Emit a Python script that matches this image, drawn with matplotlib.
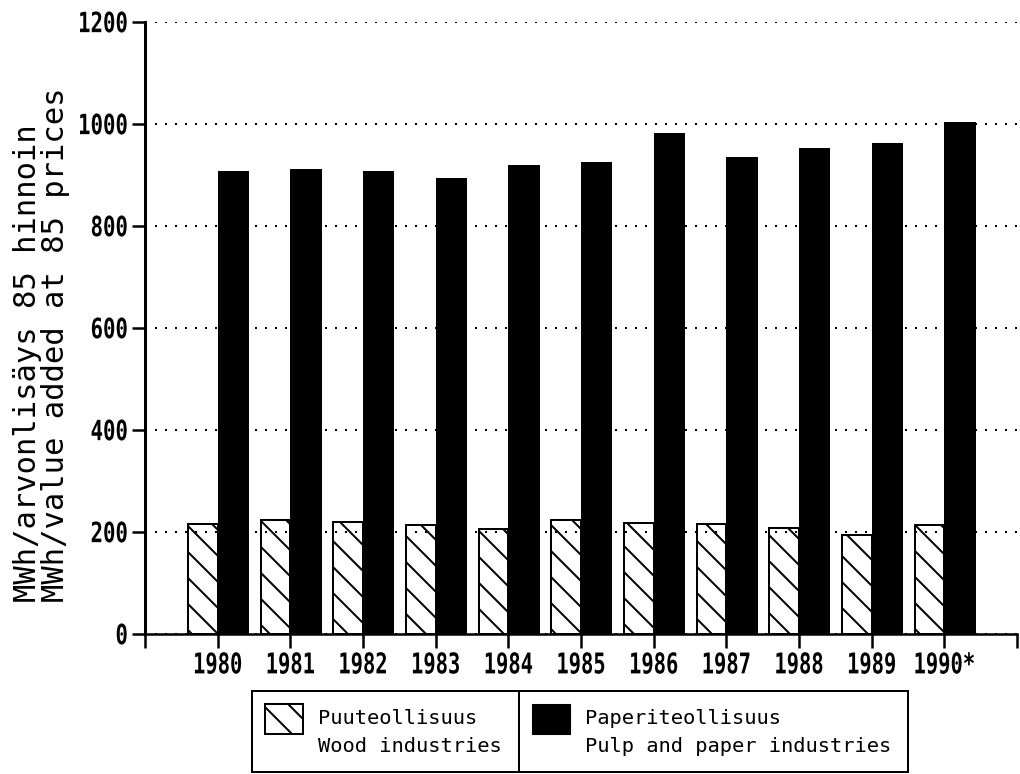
import matplotlib
matplotlib.use("Agg")
import matplotlib.pyplot as plt
from matplotlib.patches import Patch, Rectangle
from matplotlib.transforms import ScaledTranslation, Affine2D
from matplotlib.patheffects import AbstractPathEffect
from matplotlib.legend_handler import HandlerPatch
import numpy as np

# ---- data ----
years = ["1980", "1981", "1982", "1983", "1984", "1985", "1986", "1987", "1988", "1989", "1990*"]
wood = [216, 224, 220, 214, 206, 224, 218, 216, 208, 194, 214]
pulp = [908, 912, 908, 894, 919, 925, 982, 935, 953, 963, 1003]
yticks = [0, 200, 400, 600, 800, 1000, 1200]
ylabel = "MWh/arvonlisäys 85 hinnoin\nMWh/value added at 85 prices"
wood_label = "Puuteollisuus"
wood_label2 = "Wood industries"
pulp_label = "Paperiteollisuus"
pulp_label2 = "Pulp and paper industries"

DPI = 78
W, H = 1020, 774
PT = 72.0 / DPI  # px -> pt

plt.rcParams['hatch.linewidth'] = 2.0 * PT
plt.rcParams['hatch.color'] = 'black'


class Reshape(AbstractPathEffect):
    """Render text with a tall, narrow look, scaled around an anchor."""
    def __init__(self, sx, sy, anchor='center'):
        super().__init__()
        self.sx = sx
        self.sy = sy
        self.anchor = anchor

    def draw_path(self, renderer, gc, tpath, affine, rgbFace=None):
        ext = tpath.get_extents()
        if self.anchor == 'right':
            cx = ext.x1
        else:
            cx = 0.5 * (ext.x0 + ext.x1)
        cy = 0.5 * (ext.y0 + ext.y1)
        a = (Affine2D().translate(-cx, -cy).scale(self.sx, self.sy).translate(cx, cy)
             + affine)
        renderer.draw_path(gc, tpath, a, rgbFace)


fig = plt.figure(figsize=(W / DPI, H / DPI), dpi=DPI)
L, R, T, B = 145, 1017, 22, 634
ax = fig.add_axes([L / W, 1 - B / H, (R - L) / W, (B - T) / H])

x = np.arange(len(years))
bw = 0.41
ax.bar(x, wood, width=-bw, align='edge', facecolor='none', edgecolor='black',
       linewidth=2.0 * PT, hatch='\\', zorder=2)
ax.bar(x, pulp, width=bw + 0.02, align='edge', color='black', linewidth=0, zorder=2)

ax.set_xlim(-1, len(years))
ax.set_ylim(0, 1200)
ax.set_yticks(yticks)
ax.set_yticklabels([str(v) for v in yticks])
ax.set_xticks(np.arange(-1, len(years) + 1))
ax.set_xticklabels([""] + years + [""])

tick_fs = 22 * PT
for lab in ax.get_yticklabels():
    lab.set_family('DejaVu Sans Mono')
    lab.set_weight('bold')
    lab.set_fontsize(tick_fs)
    lab.set_path_effects([Reshape(0.94, 1.27, 'right')])
for lab in ax.get_xticklabels():
    lab.set_family('DejaVu Sans Mono')
    lab.set_weight('bold')
    lab.set_fontsize(tick_fs)
    lab.set_path_effects([Reshape(0.93, 1.3, 'center')])
    dx = -7
    if lab.get_text().endswith("*"):
        dx = -1
    lab.set_transform(lab.get_transform() + ScaledTranslation(dx / DPI, 0, fig.dpi_scale_trans))

ax.tick_params(axis='y', direction='out', length=13 * PT, width=2.5 * PT, pad=4 * PT)
ax.tick_params(axis='x', direction='out', length=14 * PT, width=2.5 * PT, pad=7 * PT)

for s in ['top', 'right']:
    ax.spines[s].set_visible(False)
ax.spines['left'].set_linewidth(3 * PT)
ax.spines['bottom'].set_linewidth(2.5 * PT)

ax.set_axisbelow(True)
ax.yaxis.grid(True, linestyle=(0, (1, 4)), linewidth=2 * PT, color='black')

ax.set_ylabel(ylabel, family='DejaVu Sans Mono', fontsize=30.5 * PT, multialignment='left',
              linespacing=0.95)
ax.yaxis.set_label_coords((70 - L) / (R - L), (B - 345) / (B - T))

# ---- legend: two adjoining boxes ----
legfs = 20.4 * PT


def tall_patch(legend, orig_handle, xdescent, ydescent, width, height, fontsize):
    return Rectangle((-xdescent - 4 * PT, -10 * PT), width, 30 * PT)


blank = Patch(facecolor='none', edgecolor='none')
h1 = Patch(facecolor='white', edgecolor='black', hatch='\\', linewidth=2 * PT)
h2 = Patch(facecolor='black', edgecolor='black')
hmap = {h1: HandlerPatch(patch_func=tall_patch), h2: HandlerPatch(patch_func=tall_patch)}
common = dict(loc='upper left', mode='expand', fancybox=False, framealpha=1,
              edgecolor='black', handlelength=1.9, handleheight=1.0,
              handletextpad=0.5, borderpad=0.82, labelspacing=0.37, borderaxespad=0,
              prop=dict(family='DejaVu Sans Mono', size=legfs), handler_map=hmap)
hgt = (772 - 691) / H
leg1 = fig.legend([h1, blank], [wood_label, wood_label2],
                  bbox_to_anchor=(252 / W, 1 - 772 / H, (519 - 252) / W, hgt), **common)
leg2 = fig.legend([h2, blank], [pulp_label, pulp_label2],
                  bbox_to_anchor=(519 / W, 1 - 772 / H, (908 - 519) / W, hgt), **common)
for lg in (leg1, leg2):
    lg.get_frame().set_linewidth(2 * PT)

fig.savefig("out.png", dpi=DPI)
